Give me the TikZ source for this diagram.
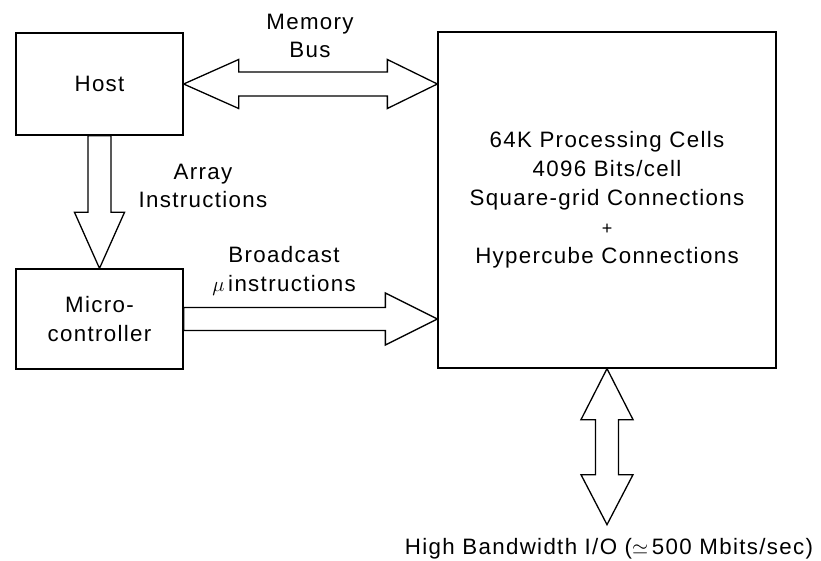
\documentclass[tikz,border=0pt]{standalone}
\usepackage{fontspec}
\setmainfont{Liberation Sans}[LetterSpace=6]
\usetikzlibrary{calc}
\begin{document}
\begin{tikzpicture}[x=1pt,y=-1pt,
  blk/.style={draw,line width=1.3pt,inner sep=0pt,align=center,font=\fontsize{22.3}{29}\selectfont},
  lbl/.style={inner sep=0pt,align=center,font=\fontsize{22.3}{28.5}\selectfont},
  fat/.style={draw,line width=1.3pt,fill=white,line join=miter}]
\useasboundingbox[fill=white] (0,0) rectangle (821,561);
% boxes
\node[blk,minimum width=167pt,minimum height=102pt] (host) at (99.5,84) {Host};
\node[blk,minimum width=167pt,minimum height=100pt] (micro) at (99.5,319) {Micro-\\controller};
\node[blk,minimum width=338pt,minimum height=336pt] (cm) at (607,200)
  {64K Processing Cells\\4096 Bits/cell\\Square-grid Connections\\{\fontsize{18}{18}\selectfont +}\\Hypercube Connections};
% memory bus (double arrow)
\coordinate (B) at (cm.west |- host.east);
\draw[fat] (host.east) -- ++(55,-24.5) -- ++(0,12.5) -- ($(B)+(-50,-12)$) -- ++(0,-12.5) -- (B)
  -- ++(-50,24.5) -- ++(0,-12.5) -- ($(host.east)+(55,12)$) -- ++(0,12.5) -- cycle;
% array instructions
\draw[fat] ($(host.south)+(-11.5,0)$) -- ($(micro.north)+(-11.5,-56)$) -- ++(-13.5,0) -- (micro.north)
  -- ++(25,-56) -- ++(-13.5,0) -- ($(host.south)+(11.5,0)$) -- cycle;
% broadcast
\coordinate (C) at (cm.west |- micro.east);
\draw[fat] ($(micro.east)+(0,-11.5)$) -- ($(C)+(-52,-11.5)$) -- ++(0,-14.5) -- (C)
  -- ++(-52,26) -- ++(0,-14.5) -- ($(micro.east)+(0,11.5)$) -- cycle;
% I/O
\coordinate (D) at ($(cm.south)+(0,156)$);
\draw[fat] (cm.south) -- ++(26,51) -- ++(-14.5,0) -- ($(D)+(11.5,-50)$) -- ++(14.5,0) -- (D)
  -- ++(-26,-50) -- ++(14.5,0) -- ($(cm.south)+(-11.5,51)$) -- ++(-14.5,0) -- cycle;
% labels
\node[lbl] (lmem) at (310,36) {Memory\\Bus};
\node[lbl] (larr) at (203,186) {Array\\Instructions};
\node[lbl] (lbro) at (284,271) {Broadcast\\$\mu$\,instructions};
\node[lbl] (lio) at ($(D)+(2,24)$) {High Bandwidth I/O ($\simeq$\,500 Mbits/sec)};
\end{tikzpicture}
\end{document}
